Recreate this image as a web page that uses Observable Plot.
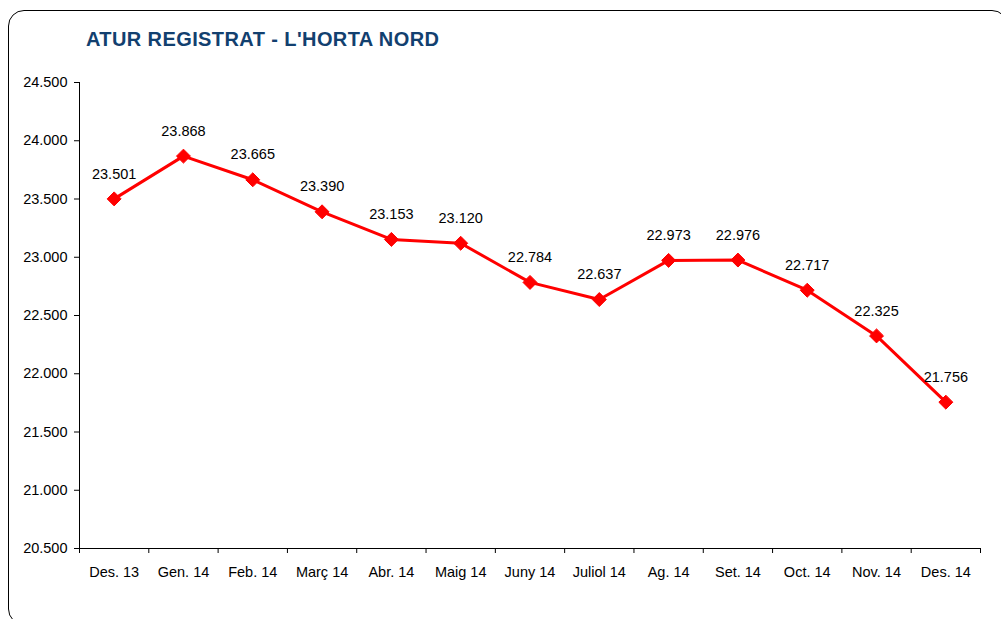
<!DOCTYPE html>
<html>
<head>
<meta charset="utf-8">
<script src="https://cdn.jsdelivr.net/npm/d3@7"></script>
<script src="https://cdn.jsdelivr.net/npm/@observablehq/plot@0.6"></script>
<style>
  html, body { margin: 0; padding: 0; background: #fff; overflow: hidden; }
  #wrap { position: relative; width: 1001px; height: 619px; overflow: hidden; font-family: "Liberation Sans", Arial, sans-serif; }
  #frame { position: absolute; left: 8px; top: 10px; width: 1000px; height: 615px; border: 1px solid #000; border-radius: 16px; box-sizing: border-box; }
  #title { position: absolute; left: 86px; top: 29px; font-size: 20px; line-height: 20px; font-weight: bold; color: #12406F; letter-spacing: 0.4px; white-space: nowrap; }
  #chart { position: absolute; left: 0; top: 0; }
</style>
</head>
<body>
<div id="wrap">
  <div id="frame"></div>
  <div id="title">ATUR REGISTRAT - L'HORTA NORD</div>
  <div id="chart"></div>
</div>
<script>
const months = ["Des. 13", "Gen. 14", "Feb. 14", "Març 14", "Abr. 14", "Maig 14", "Juny 14", "Juliol 14", "Ag. 14", "Set. 14", "Oct. 14", "Nov. 14", "Des. 14"];
const values = [23501, 23868, 23665, 23390, 23153, 23120, 22784, 22637, 22973, 22976, 22717, 22325, 21756];
const yTicks = [20500, 21000, 21500, 22000, 22500, 23000, 23500, 24000, 24500];

const data = months.map((m, i) => ({i, month: m, value: values[i]}));
const loc = d3.formatLocale({decimal: ",", thousands: ".", grouping: [3], currency: ["", ""]});
const fmt = loc.format(",d");
const boundaries = d3.range(months.length + 1).map(i => i - 0.5);

const chart = Plot.plot({
  width: 1001,
  height: 619,
  marginLeft: 79,
  marginRight: 21,
  marginTop: 82,
  marginBottom: 71,
  style: {fontFamily: "'Liberation Sans', Arial, sans-serif", fontSize: "14.5px", color: "#000", background: "transparent"},
  x: {type: "linear", domain: [-0.5, months.length - 0.5]},
  y: {domain: [20500, 24500]},
  marks: [
    Plot.ruleX([-0.5], {stroke: "#000", strokeWidth: 1}),
    Plot.ruleY([20500], {stroke: "#000", strokeWidth: 1}),
    Plot.axisY({ticks: yTicks, tickSize: 5, tickPadding: 7, tickFormat: fmt, label: null, stroke: "#000", fill: "#000"}),
    Plot.axisX({ticks: boundaries, tickSize: 5, tickFormat: () => "", label: null, stroke: "#000"}),
    Plot.axisX({ticks: d3.range(months.length), tickSize: 0, tickPadding: 18, tickFormat: i => months[i], label: null, fill: "#000"}),
    Plot.line(data, {x: "i", y: "value", stroke: "#FF0000", strokeWidth: 3}),
    Plot.dot(data, {x: "i", y: "value", symbol: "diamond2", r: 6.3, fill: "#FF0000", stroke: "#FF0000", strokeWidth: 1}),
    Plot.text(data, {x: "i", y: "value", text: d => fmt(d.value), dy: -25, fill: "#000", fontSize: 14.5})
  ]
});
document.getElementById("chart").appendChild(chart);
</script>
</body>
</html>
